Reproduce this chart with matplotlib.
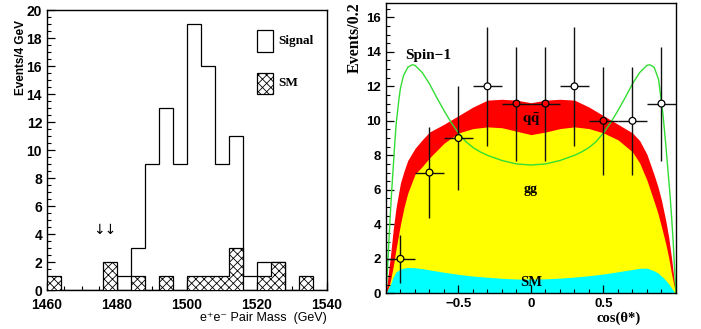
import numpy as np
import matplotlib
matplotlib.use('Agg')
import matplotlib.pyplot as plt
from matplotlib.patches import Rectangle
from matplotlib.ticker import MultipleLocator

plt.rcParams.update({
    'font.family': ['Liberation Sans', 'DejaVu Sans'],
    'mathtext.fontset': 'stix',
    'hatch.linewidth': 0.6,
    'axes.linewidth': 1.0,
})

SANS = ['Liberation Sans', 'DejaVu Sans']
SERIF = ['Liberation Serif', 'DejaVu Serif']

# --- left panel: e+e- pair mass histogram (4 GeV bins) ---
mass_edges = [1460, 1464, 1468, 1472, 1476, 1480, 1484, 1488, 1492, 1496, 1500,
              1504, 1508, 1512, 1516, 1520, 1524, 1528, 1532, 1536, 1540]
sm_counts = [1, 0, 0, 0, 2, 0, 1, 0, 1, 0, 1, 1, 1, 3, 0, 1, 2, 0, 1, 0]
signal_edges = [1480, 1484, 1488, 1492, 1496, 1500, 1504, 1508, 1512, 1516, 1520, 1524, 1528]
signal_counts = [1, 3, 9, 13, 9, 19, 16, 9, 11, 1, 2, 2]

# --- right panel: cos(theta*) distribution ---
band_x = [-1.0, -0.99, -0.97, -0.95, -0.93, -0.9, -0.875, -0.85, -0.8, -0.75, -0.7, -0.6,
          -0.5, -0.4, -0.3, -0.2, -0.1, 0.0, 0.1, 0.2, 0.3, 0.4, 0.5, 0.6, 0.7, 0.75,
          0.8, 0.85, 0.875, 0.9, 0.93, 0.95, 0.97, 0.99, 1.0]
total_top = [0, 0.7, 2.1, 3.7, 5.0, 6.4, 7.1, 7.7, 8.4, 8.9, 9.35, 9.8,
             10.3, 10.8, 11.2, 11.25, 11.2, 11.05, 11.2, 11.25, 11.2, 10.8, 10.3, 9.8, 9.3, 8.85,
             8.05, 6.85, 6.2, 5.4, 4.2, 3.25, 2.0, 0.58, 0]
gg_top = [0, 0.15, 0.7, 1.55, 2.6, 4.0, 5.0, 5.8, 6.9, 7.35, 7.85, 8.7,
          9.3, 9.55, 9.65, 9.6, 9.4, 9.2, 9.35, 9.55, 9.65, 9.55, 9.3, 8.9, 8.2, 7.55,
          6.55, 5.3, 4.65, 3.86, 2.85, 2.05, 1.1, 0.3, 0]
sm_top = [0, 0.2, 0.5, 0.95, 1.25, 1.4, 1.47, 1.5, 1.48, 1.43, 1.36, 1.22,
          1.1, 1.0, 0.93, 0.87, 0.83, 0.82, 0.84, 0.88, 0.94, 1.02, 1.12, 1.25, 1.38, 1.45,
          1.46, 1.3, 1.18, 1.0, 0.75, 0.55, 0.3, 0.05, 0]

spin_x = [-1.0, -0.99, -0.98, -0.97, -0.96, -0.95, -0.94, -0.93, -0.91, -0.9, -0.88, -0.85,
          -0.82, -0.8, -0.75, -0.7, -0.65, -0.6, -0.55, -0.5, -0.45, -0.4, -0.35, -0.3,
          -0.2, -0.1, 0.0, 0.1, 0.2, 0.3, 0.35, 0.4, 0.45, 0.5, 0.55, 0.6, 0.65, 0.7, 0.75,
          0.8, 0.82, 0.85, 0.88, 0.9, 0.91, 0.93, 0.94, 0.95, 0.96, 0.97, 0.98, 0.99, 1.0]
spin_y = [0, 1.3, 3.0, 4.6, 6.0, 7.3, 8.6, 9.8, 11.3, 11.9, 12.6, 13.1,
          13.25, 13.22, 12.8, 12.15, 11.35, 10.6, 9.9, 9.3, 8.8, 8.45, 8.2, 8.0,
          7.7, 7.5, 7.44, 7.5, 7.7, 8.0, 8.2, 8.45, 8.8, 9.3, 9.9, 10.6, 11.35, 12.15, 12.8,
          13.22, 13.25, 13.1, 12.4, 11.1, 10.4, 8.6, 7.6, 6.6, 5.6, 4.4, 3.1, 1.5, 0]

cos_pts = [-0.9, -0.7, -0.5, -0.3, -0.1, 0.1, 0.3, 0.5, 0.7, 0.9]
cos_counts = [2, 7, 9, 12, 11, 11, 12, 10, 10, 11]
cos_errs = [1.4, 2.65, 3.0, 3.45, 3.3, 3.3, 3.45, 3.15, 3.15, 3.3]
cos_halfwidth = 0.1
# open markers show what is behind them
marker_faces = ['#ffff00', '#ffff00', '#ffff00', 'white', 'red',
                'red', 'white', 'red', 'white', 'white']


fig = plt.figure(figsize=(7.01, 3.29), dpi=100)
ax1 = fig.add_axes([0.067, 0.1185, 0.3994, 0.851])
ax2 = fig.add_axes([0.5506, 0.1085, 0.4137, 0.8833])

# Left panel
ax1.stairs(signal_counts, signal_edges, baseline=0, color='black', lw=0.9, zorder=2)
ax1.stairs(sm_counts, mass_edges, fill=True, facecolor='white', edgecolor='black',
           hatch='xxxx', lw=0.9, zorder=3)
ax1.set_xlim(1460, 1540)
ax1.set_ylim(0, 20)
ax1.set_xticks([1460, 1480, 1500, 1520, 1540])
ax1.set_xticklabels(['1460', '1480', '1500', '1520', '1540'], fontweight='bold')
ax1.set_yticks(range(0, 21, 2))
ax1.set_yticklabels([str(v) for v in range(0, 21, 2)], fontweight='bold')
ax1.xaxis.set_minor_locator(MultipleLocator(5))
ax1.yaxis.set_minor_locator(MultipleLocator(0.5))

ax1.add_patch(Rectangle((0.75, 0.85), 0.057, 0.079, transform=ax1.transAxes,
                        facecolor='white', edgecolor='black', lw=0.9))
ax1.add_patch(Rectangle((0.75, 0.70), 0.057, 0.075, transform=ax1.transAxes,
                        facecolor='white', edgecolor='black', hatch='xxxx', lw=0.9))
ax1.text(0.825, 0.889, 'Signal', transform=ax1.transAxes, va='center',
         family=SERIF, fontweight='bold', fontsize=9.5)
ax1.text(0.825, 0.738, 'SM', transform=ax1.transAxes, va='center',
         family=SERIF, fontweight='bold', fontsize=9.5)
ax1.text(1476.5, 4.3, '↓↓', ha='center', va='center', fontsize=10, family=['DejaVu Sans'])

ax1.set_ylabel('Events/4 GeV', fontsize=8.5, fontweight='bold')
ax1.yaxis.set_label_coords(-0.071, 0.83)
ax1.set_xlabel('e⁺e⁻ Pair Mass  (GeV)', fontsize=9, family=SANS, ha='right')
ax1.xaxis.set_label_coords(1.0, -0.08)

# Right panel
ax2.fill_between(band_x, 0, total_top, color='#ff0000', lw=0)
ax2.fill_between(band_x, 0, gg_top, color='#ffff00', lw=0)
ax2.fill_between(band_x, 0, sm_top, color='#00ffff', lw=0)
ax2.plot(spin_x, spin_y, color='#33dd33', lw=1.0)
ax2.errorbar(cos_pts, cos_counts, yerr=cos_errs, xerr=cos_halfwidth, fmt='none',
             ecolor='#111111', elinewidth=1.0, capsize=0, zorder=4)
ax2.scatter(cos_pts, cos_counts, s=24, c=marker_faces, edgecolors='black',
            linewidths=0.9, zorder=5)

ax2.text(-0.87, 13.8, 'Spin−1', va='center', family=SERIF, fontweight='bold', fontsize=11)
ax2.text(0.0, 10.1, r'$\mathbf{q\bar{q}}$', ha='center', va='center', fontsize=11)
ax2.text(0.0, 6.0, 'gg', ha='center', va='center', family=SERIF, fontweight='bold', fontsize=10)
ax2.text(0.0, 0.62, 'SM', ha='center', va='center', family=SERIF, fontweight='bold', fontsize=10.5)

ax2.set_xlim(-1, 1)
ax2.set_ylim(0, 16.85)
ax2.set_xticks([-0.5, 0, 0.5])
ax2.set_xticklabels(['−0.5', '0', '0.5'], fontweight='bold')
ax2.set_yticks(range(0, 17, 2))
ax2.set_yticklabels([str(v) for v in range(0, 17, 2)], fontweight='bold')
ax2.xaxis.set_minor_locator(MultipleLocator(0.1))
ax2.yaxis.set_minor_locator(MultipleLocator(0.5))
ax2.set_ylabel('Events/0.2', family=SERIF, fontweight='bold', fontsize=11.5)
ax2.yaxis.set_label_coords(-0.079, 0.88)
ax2.set_xlabel('cos(θ*)', family=SERIF, fontweight='bold', fontsize=10.5, ha='right')
ax2.xaxis.set_label_coords(0.88, -0.062)

for ax in (ax1, ax2):
    ax.tick_params(which='both', direction='in', top=False, right=False, labelsize=9.5)
    ax.tick_params(which='major', length=6, width=0.9)
    ax.tick_params(which='minor', length=3, width=0.8)
ax1.tick_params(axis='both', which='major', labelsize=10)
ax1.tick_params(axis='x', which='major', pad=6)

fig.savefig('out.png', dpi=100)
